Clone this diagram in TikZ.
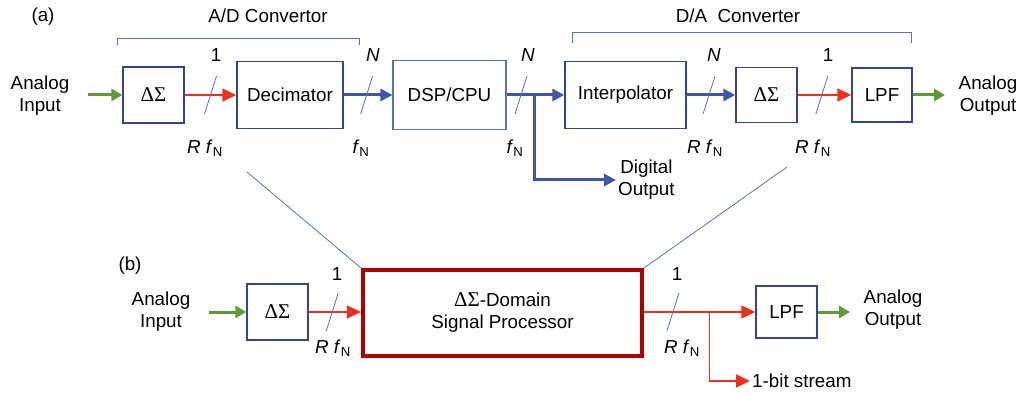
\documentclass[tikz,border=0pt]{standalone}
\usepackage{fontspec}
\setmainfont{Liberation Sans}
\newfontfamily\grfont{Liberation Serif}
\usetikzlibrary{arrows.meta}

\definecolor{boxblue}{HTML}{34449A}
\definecolor{lineblue}{HTML}{5670C4}
\definecolor{busblue}{HTML}{3F55AA}
\definecolor{bitred}{HTML}{F0301A}
\definecolor{anagreen}{HTML}{5E9B35}
\definecolor{dspred}{HTML}{B00000}

\newcommand{\dsig}{{\grfont\fontsize{21}{22}\selectfont ΔΣ}}

\begin{document}
\begin{tikzpicture}[x=1pt,y=-1pt,
    font=\fontsize{18.8}{22}\selectfont,
    blk/.style={draw=boxblue,line width=1.4pt,inner sep=0pt},
    bus/.style={busblue,line width=3pt,-{Triangle[length=12pt,width=12pt]}},
    bit/.style={bitred,line width=1.5pt,-{Triangle[length=14pt,width=13pt]}},
    ana/.style={anagreen,line width=3pt,-{Triangle[length=11pt,width=12pt]}},
    tick/.style={lineblue,line width=0.8pt},
    guide/.style={lineblue,line width=0.8pt}]

\useasboundingbox (0,0) rectangle (1029,393);

% ===== (a) blokken =====
\node (la) at (43,17) {(a)};
\node[blk,minimum width=61,minimum height=56] (ds1) at (153.5,95) {\dsig};
\node[blk,minimum width=106,minimum height=67] (dec) at (290,95) {Decimator};
\node[draw=lineblue,line width=1.1pt,inner sep=0pt,minimum width=113,minimum height=69] (dsp) at (449.5,95) {DSP/CPU};
\node[blk,minimum width=121,minimum height=67] (intp) at (625.5,95) {Interpolator};
\node[blk,minimum width=61,minimum height=55] (ds2) at (766.5,95) {\dsig};
\node[blk,minimum width=60,minimum height=54] (lpf1) at (882,95) {LPF};

\node[align=center] (ain1) at (40,96) {Analog\\Input};
\node[align=center] (aout1) at (988,96) {Analog\\Output};
\node[align=center,anchor=west,inner sep=2pt] (dout) at (616,180) {Digital\\Output};

\coordinate (ain1e) at (88,95);
\coordinate (aout1w) at (945,95);

% ===== (a) verbindingen =====
\draw[ana] (ain1e) -- (ds1.west);
\draw[bit] (ds1.east) -- coordinate[pos=.5] (b1) (dec.west);
\draw[bus] (dec.east) -- coordinate[pos=.47] (b2) (dsp.west);
\draw[bus] (dsp.east) -- coordinate[pos=.25] (b3) coordinate[pos=.49] (split) (intp.west);
\draw[bus] (split) |- (dout.west);
\draw[bus] (intp.east) -- coordinate[pos=.46] (b4) (ds2.west);
\draw[bit] (ds2.east) -- coordinate[pos=.45] (b5) (lpf1.west);
\draw[ana] (lpf1.east) -- (aout1w);

% ===== (a) busbreedte =====
\foreach \b in {b1,b2,b3,b4,b5} {
    \draw[tick] ([shift={(-6,19)}]\b) -- ([shift={(6,-19)}]\b);
}
\node (n1) at (216,55) {1};
\node (n2) at (373,55) {\textit{N}};
\node (n3) at (528,55) {\textit{N}};
\node (n4) at (714,55) {\textit{N}};
\node (n5) at (828,55) {1};
\node (r1) at (205,148) {\textit{R f}\textsubscript{N}};
\node (r2) at (361,148) {\textit{f}\textsubscript{N}};
\node (r3) at (515,148) {\textit{f}\textsubscript{N}};
\node (r4) at (705,148) {\textit{R f}\textsubscript{N}};
\node (r5) at (813,148) {\textit{R f}\textsubscript{N}};

% ===== haken =====
\draw[guide] (117,45) -- (117,38) -- (359,38) -- (359,45);
\node (adc) at (268,16) {A/D Convertor};
\draw[guide] (572,43) -- (572,32) -- (911,32) -- (911,43);
\node (dac) at (738,16) {D/A~~Converter};

% ===== (b) blokken =====
\node (lb) at (130,266) {(b)};
\node[blk,minimum width=61,minimum height=56] (ds3) at (277.5,312) {\dsig};
\node[draw=dspred,line width=4pt,inner sep=0pt,minimum width=279,minimum height=86,align=center] (dsp2) at (502.5,313) {\dsig-Domain\\Signal Processor};
\node[blk,minimum width=61,minimum height=52] (lpf2) at (786.5,312) {LPF};

\node[align=center] (ain2) at (161,312) {Analog\\Input};
\node[align=center] (aout2) at (893,310) {Analog\\Output};
\node[anchor=west,inner sep=2pt] (bs) at (750,381) {1-bit stream};

\coordinate (ain2e) at (209,312);
\coordinate (aout2w) at (850,312);

% ===== (b) verbindingen =====
\draw[ana] (ain2e) -- (ds3.west);
\draw[bit] (ds3.east) -- coordinate[pos=.45] (b6) (ds3.east -| dsp2.west);
\draw[bit] (dsp2.east |- lpf2.west) -- coordinate[pos=.26] (b7) coordinate[pos=.59] (tap) (lpf2.west);
\draw[bit] (tap) |- (bs.west);
\draw[ana] (lpf2.east) -- (aout2w);

\foreach \b in {b6,b7} {
    \draw[tick] ([shift={(-6,19)}]\b) -- ([shift={(6,-19)}]\b);
}
\node (n6) at (337,274) {1};
\node (n7) at (677,274) {1};
\node (r6) at (333,348) {\textit{R f}\textsubscript{N}};
\node (r7) at (682,348) {\textit{R f}\textsubscript{N}};

% ===== zoomlijnen =====
\coordinate (za) at (247,172);
\coordinate (zb) at (787,167);
\draw[guide] (za) -- (dsp2.north west);
\draw[guide] (zb) -- (dsp2.north east);

\end{tikzpicture}
\end{document}
